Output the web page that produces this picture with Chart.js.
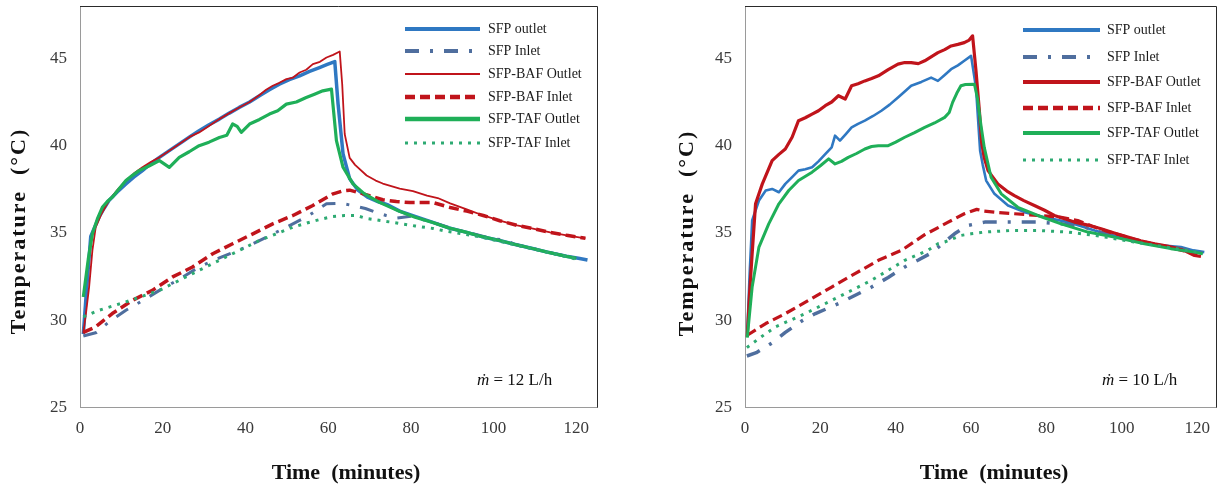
<!DOCTYPE html>
<html>
<head>
<meta charset="utf-8">
<script src="https://cdn.jsdelivr.net/npm/chart.js@4.4.1/dist/chart.umd.min.js"></script>
<style>
  html, body { margin: 0; padding: 0; background: #fff; }
  #wrap { position: relative; width: 1219px; height: 489px; overflow: hidden; }
  canvas { position: absolute; top: 0; }
  #c12 { left: 0; }
  #c10 { left: 610px; }
</style>
</head>
<body>
<div id="wrap">
  <canvas id="c12" width="609" height="489"></canvas>
  <canvas id="c10" width="609" height="489"></canvas>
</div>
<script>
// ---- data ----
const seriesNames = ['SFP outlet', 'SFP Inlet', 'SFP-BAF Outlet', 'SFP-BAF Inlet', 'SFP-TAF Outlet', 'SFP-TAF Inlet'];
const xTicks = [0, 20, 40, 60, 80, 100, 120];
const yTicks = [25, 30, 35, 40, 45];

// left panel, m = 12 L/h
const t12_sfpOut = [0.8, 1.6, 2.6, 3.5, 4.6, 5.8, 7, 9, 11.1, 13, 15.1, 17, 19.2, 21.5, 24, 26.5, 28.8, 31.2, 33.7, 36, 38.5, 41, 43.4, 45.8, 48.2, 50.6, 53.1, 55.5, 57.9, 59.8, 61.6, 62.4, 63.6, 65.2, 67.2, 69.5, 72, 74.5, 77.3, 81, 85.3, 89, 93.5, 97, 101.4, 105, 109.4, 113, 117.6, 120.5, 122.7];
const v12_sfpOut = [29.2, 31.8, 34.8, 35.3, 35.9, 36.4, 36.86, 37.35, 37.81, 38.2, 38.57, 38.95, 39.33, 39.7, 40.1, 40.5, 40.86, 41.2, 41.52, 41.85, 42.19, 42.5, 42.86, 43.2, 43.52, 43.78, 44.0, 44.25, 44.47, 44.65, 44.82, 42.38, 39.53, 38.1, 37.45, 37.05, 36.8, 36.6, 36.25, 35.95, 35.6, 35.3, 35.03, 34.8, 34.57, 34.35, 34.11, 33.9, 33.66, 33.55, 33.45];

const t12_sfpIn = [0.8, 4, 7, 11.1, 15, 19.2, 24, 28.8, 34, 40.2, 45, 49.9, 55, 59.6, 63, 66, 69, 71.7, 74, 76.6, 80, 85, 90, 95, 100, 103, 105, 110, 115, 120, 122.5];
const v12_sfpIn = [29.1, 29.3, 29.9, 30.57, 31.1, 31.71, 32.35, 33.05, 33.6, 34.19, 34.75, 35.33, 35.95, 36.67, 36.7, 36.57, 36.4, 36.17, 36.0, 35.85, 35.95, 35.62, 35.25, 34.95, 34.65, 34.6, 34.35, 34.08, 33.8, 33.55, 33.45];

const t12_bafOut = [0.8, 1.5, 2.2, 3, 3.8, 5.2, 7, 9, 11.1, 13, 15.1, 17, 19.2, 21.5, 24, 26.5, 28.8, 31, 33.7, 36, 38.5, 41, 43.4, 45, 46.6, 48.2, 49.9, 51.5, 53.1, 54.7, 56.3, 58, 59.6, 61.2, 62.8, 63.4, 64, 65.2, 66.5, 69.3, 71.5, 73.2, 77.3, 80.5, 83.9, 86.5, 89.5, 93.5, 97.5, 101.5, 105.7, 109.5, 113.7, 118, 122.2];
const v12_bafOut = [29.25, 30.5, 31.9, 34.0, 35.33, 36.1, 36.86, 37.45, 38.0, 38.4, 38.76, 39.05, 39.33, 39.7, 40.1, 40.5, 40.76, 41.1, 41.52, 41.85, 42.19, 42.5, 42.9, 43.2, 43.43, 43.6, 43.81, 43.9, 44.19, 44.35, 44.67, 44.8, 45.05, 45.2, 45.39, 43.5, 40.67, 39.3, 38.9, 38.29, 38.0, 37.83, 37.54, 37.4, 37.14, 37.0, 36.69, 36.35, 36.0, 35.7, 35.43, 35.25, 35.03, 34.85, 34.69];

const t12_bafIn = [0.8, 3.8, 7.8, 12.7, 17.5, 22.4, 27.2, 32.1, 36.9, 41.8, 46.6, 51.5, 56.3, 61.2, 63.5, 65.2, 67.6, 70.5, 73.2, 76.5, 79.8, 85.3, 89.5, 93.5, 97.5, 101.5, 105.7, 109.5, 113.7, 118, 122.2];
const v12_bafIn = [29.3, 29.62, 30.38, 31.14, 31.71, 32.48, 33.05, 33.81, 34.38, 34.95, 35.52, 36.0, 36.57, 37.24, 37.4, 37.45, 37.3, 37.1, 36.9, 36.8, 36.74, 36.74, 36.46, 36.25, 36.0, 35.7, 35.43, 35.25, 35.03, 34.85, 34.69];

const t12_tafOut = [0.8, 2, 3, 4.2, 5.4, 6.6, 7.8, 9.5, 11.1, 12.7, 14.3, 16.8, 19.2, 21.6, 24, 26.4, 28.8, 31.2, 33.7, 35.5, 36.9, 38, 39, 41, 43.4, 45.8, 47.8, 49.9, 52.3, 54.7, 56.7, 58.7, 60.8, 62, 63.6, 66, 68.7, 72.4, 77.1, 81, 85.3, 89, 93.5, 97, 101.4, 105, 109.4, 113, 117.6, 120];
const v12_tafOut = [31.33, 33.5, 34.95, 35.8, 36.47, 36.8, 37.05, 37.55, 38.0, 38.3, 38.57, 38.85, 39.14, 38.76, 39.33, 39.65, 40.0, 40.2, 40.47, 40.6, 41.24, 41.1, 40.76, 41.24, 41.5, 41.81, 42.0, 42.38, 42.5, 42.76, 42.95, 43.14, 43.24, 40.29, 38.76, 37.81, 37.25, 36.75, 36.25, 35.9, 35.6, 35.3, 35.03, 34.8, 34.57, 34.35, 34.11, 33.9, 33.66, 33.55];

const t12_tafIn = [0.8, 4.6, 11.1, 19.2, 27.2, 35.3, 43.4, 51.5, 55.3, 58.5, 61.1, 64, 66.8, 69.3, 73, 77.3, 81, 85.3, 88.5, 91.9, 95, 100, 105, 110, 115, 120];
const v12_tafIn = [30.19, 30.57, 31.05, 31.71, 32.67, 33.62, 34.57, 35.33, 35.6, 35.8, 35.94, 36.0, 36.0, 35.83, 35.7, 35.54, 35.4, 35.26, 35.1, 34.97, 34.85, 34.6, 34.33, 34.05, 33.78, 33.5];

// right panel, m = 10 L/h
const t10_sfpOut = [0.6, 1.2, 1.9, 3.7, 5.5, 7.2, 9, 10.7, 12.5, 14.2, 16, 17.8, 19.5, 21.3, 23, 23.9, 25.2, 26.7, 28.3, 30, 31.8, 34, 36.2, 38.4, 40.6, 42.4, 44.1, 46.8, 49.4, 51.2, 53, 54.7, 56.5, 58.2, 60, 61.3, 62.4, 63.1, 64, 66.2, 69.8, 74.2, 79.5, 85.7, 92.8, 97, 101.6, 106, 110.4, 115.7, 119, 121.9];
const v10_sfpOut = [29.2, 32.5, 35.71, 36.86, 37.43, 37.52, 37.33, 37.81, 38.2, 38.57, 38.65, 38.76, 39.1, 39.52, 39.9, 40.57, 40.29, 40.65, 41.05, 41.25, 41.43, 41.7, 42.0, 42.35, 42.76, 43.1, 43.43, 43.65, 43.9, 43.71, 44.05, 44.38, 44.6, 44.86, 45.14, 43.33, 39.71, 38.9, 38.0, 37.24, 36.57, 36.19, 35.9, 35.62, 35.14, 34.9, 34.67, 34.45, 34.29, 34.19, 34.0, 33.9];

const t10_sfpIn = [0.5, 3, 7.2, 10.7, 15, 18.7, 24.8, 29, 33.6, 38, 42.4, 46, 49.4, 52, 55.6, 59.1, 63.6, 70.7, 77.7, 83.9, 90.1, 95, 100, 105, 110, 115, 120, 121.5];
const v10_sfpIn = [27.95, 28.14, 28.7, 29.3, 29.95, 30.38, 30.95, 31.4, 31.9, 32.45, 33.05, 33.45, 33.85, 34.3, 34.95, 35.43, 35.62, 35.62, 35.62, 35.52, 35.33, 35.0, 34.72, 34.5, 34.3, 34.12, 33.9, 33.85];

const t10_bafOut = [0.6, 1.2, 1.9, 2.8, 4.6, 7.2, 9, 10.7, 12.5, 14.2, 16, 17.8, 19.5, 21.3, 23, 24.8, 26.6, 28.3, 30, 31.8, 33.6, 35.4, 38, 40.6, 42.4, 44.1, 46, 47.7, 49.5, 51.2, 53, 54.7, 56.5, 58.2, 59.5, 60.4, 61.3, 62.2, 62.8, 63.5, 64.5, 67.1, 69.5, 71.5, 74, 76.8, 79.5, 82.1, 85, 87.4, 91, 94.5, 98, 101.6, 105, 108.7, 112, 114.9, 117, 119.3, 121];
const v10_bafOut = [29.05, 31.5, 33.81, 36.67, 37.81, 39.14, 39.5, 39.81, 40.48, 41.43, 41.6, 41.81, 42.0, 42.29, 42.5, 42.86, 42.67, 43.43, 43.55, 43.71, 43.85, 44.0, 44.35, 44.67, 44.76, 44.76, 44.7, 44.86, 45.1, 45.33, 45.5, 45.71, 45.8, 45.9, 46.05, 46.29, 44.3, 42.0, 40.2, 39.3, 38.57, 37.81, 37.4, 37.14, 36.85, 36.57, 36.3, 36.0, 35.8, 35.62, 35.45, 35.24, 35.0, 34.76, 34.55, 34.38, 34.25, 34.1, 33.95, 33.71, 33.65];

const t10_bafIn = [0.6, 5.5, 10.7, 16.9, 23, 29.2, 35.4, 41.5, 47.7, 53.8, 58.2, 61.5, 63.5, 66.2, 71.5, 77.7, 83.9, 88.3, 92, 96, 100, 104, 108, 112, 116, 120];
const v10_bafIn = [29.14, 29.81, 30.38, 31.14, 31.9, 32.67, 33.43, 34.0, 34.9, 35.6, 36.1, 36.35, 36.25, 36.19, 36.1, 36.0, 35.9, 35.71, 35.4, 35.1, 34.85, 34.6, 34.38, 34.2, 34.0, 33.75];

const t10_tafOut = [0.6, 1.9, 3.7, 6.3, 9, 11.6, 14.2, 17.8, 20, 22.2, 23.9, 25.6, 27.4, 29.6, 31.8, 33.6, 35.4, 38, 40, 42.4, 45, 47.7, 50.3, 53, 54.2, 55.1, 56.2, 57.3, 58.5, 60.9, 61.7, 62.6, 63.5, 65.3, 68, 72.4, 77.7, 83.9, 91, 98, 106, 113, 119.3, 121.5];
const v10_tafOut = [29.0, 31.9, 34.19, 35.52, 36.67, 37.43, 38.0, 38.48, 38.85, 39.24, 38.95, 39.1, 39.33, 39.55, 39.81, 39.95, 40.0, 40.0, 40.2, 40.48, 40.75, 41.05, 41.3, 41.62, 41.9, 42.48, 43.0, 43.43, 43.5, 43.52, 42.7, 41.2, 39.9, 38.19, 37.24, 36.47, 36.0, 35.52, 35.05, 34.76, 34.38, 34.1, 33.9, 33.81];

const t10_tafIn = [0.5, 4, 8.1, 16, 24.8, 33.6, 42.4, 48.5, 51.2, 53, 57.4, 60, 63.6, 70.7, 77.7, 85.7, 92.8, 96, 100, 105, 110, 115, 120];
const v10_tafIn = [28.43, 29.0, 29.62, 30.38, 31.33, 32.29, 33.43, 34.0, 34.38, 34.48, 34.86, 34.95, 35.05, 35.14, 35.14, 35.05, 34.86, 34.75, 34.6, 34.42, 34.25, 34.08, 33.9];

// ---- styling ----
const FONT = '"Liberation Serif", "Times New Roman", serif';
const seriesColors = ['#2f78c2', '#4f6e9e', '#c0141b', '#c0141b', '#1faf58', '#2daa72'];
const seriesDash = [[], [14, 11, 3, 11], [], [10, 5], [], [3, 6]];

function pts(t, v) {
    return t.map((x, i) => ({ x: x, y: v[i] }));
}

function buildDatasets(series, widths) {
    return series.map((s, i) => ({
        label: seriesNames[i],
        data: pts(s[0], s[1]),
        borderColor: seriesColors[i],
        borderWidth: widths[i],
        borderDash: seriesDash[i],
        borderCapStyle: 'butt',
        borderJoinStyle: 'round',
        pointRadius: 0,
        tension: 0,
        fill: false,
        order: series.length - i
    }));
}

// frame, in-plot legend, axis titles and flow-rate note
const decorPlugin = {
    id: 'decor',
    afterDraw(chart, args, opts) {
        const { ctx, chartArea: a } = chart;
        ctx.save();

        ctx.strokeStyle = '#2a2a2a';
        ctx.lineWidth = 1;
        ctx.beginPath();
        ctx.moveTo(a.left, a.top + 0.5);
        ctx.lineTo(a.right + 0.5, a.top + 0.5);
        ctx.lineTo(a.right + 0.5, a.bottom);
        ctx.stroke();

        const lg = opts.legend;
        chart.data.datasets.forEach((ds, i) => {
            const y = lg.rows[i];
            ctx.beginPath();
            ctx.setLineDash(ds.borderDash);
            ctx.strokeStyle = ds.borderColor;
            ctx.lineWidth = lg.widths[i];
            ctx.lineCap = 'butt';
            ctx.moveTo(lg.x1, y);
            ctx.lineTo(lg.x2, y);
            ctx.stroke();
            ctx.setLineDash([]);
            ctx.fillStyle = '#1a1a1a';
            ctx.font = '14px ' + FONT;
            ctx.textAlign = 'left';
            ctx.textBaseline = 'middle';
            ctx.fillText(ds.label, lg.textX, y);
        });

        ctx.fillStyle = '#111';
        ctx.font = 'bold 22px ' + FONT;
        ctx.textAlign = 'center';
        ctx.textBaseline = 'middle';
        ctx.fillText('Time  (minutes)', opts.xTitle[0], opts.xTitle[1]);

        ctx.save();
        ctx.translate(opts.yTitle[0], opts.yTitle[1]);
        ctx.rotate(-Math.PI / 2);
        ctx.letterSpacing = '2px';
        ctx.fillText('Temperature  (\u00B0C)', 0, 0);
        ctx.restore();

        ctx.textAlign = 'left';
        ctx.font = 'italic 17px ' + FONT;
        const m = '\u1E41';
        ctx.fillText(m, opts.note[0], opts.note[1]);
        const w = ctx.measureText(m).width;
        ctx.font = '17px ' + FONT;
        ctx.fillText(' = ' + opts.noteText, opts.note[0] + w, opts.note[1]);

        ctx.restore();
    }
};

function makeChart(id, series, widths, layout) {
    const canvas = document.getElementById(id);
    return new Chart(canvas.getContext('2d'), {
        type: 'line',
        data: { datasets: buildDatasets(series, widths) },
        options: {
            responsive: false,
            animation: false,
            layout: { padding: { left: 0, right: layout.padRight, top: 6, bottom: 0 } },
            scales: {
                x: {
                    type: 'linear',
                    min: 0,
                    max: 125,
                    afterBuildTicks: s => { s.ticks = xTicks.map(v => ({ value: v })); },
                    afterFit: s => { s.height = 81.5; s.paddingLeft = 0; s.paddingRight = 0; },
                    grid: { display: false, drawTicks: false },
                    border: { color: '#9a9a9a', width: 1 },
                    ticks: { padding: 11, color: '#3a3a3a', font: { family: FONT, size: 17 } }
                },
                y: {
                    type: 'linear',
                    min: 25,
                    max: 48,
                    afterBuildTicks: s => { s.ticks = yTicks.map(v => ({ value: v })); },
                    afterFit: s => { s.width = layout.yWidth; s.paddingTop = 0; s.paddingBottom = 0; },
                    grid: { display: false, drawTicks: false },
                    border: { color: '#9a9a9a', width: 1 },
                    ticks: { padding: 13, color: '#3a3a3a', font: { family: FONT, size: 17 } }
                }
            },
            plugins: {
                legend: { display: false },
                tooltip: { enabled: false },
                decor: layout.decor
            }
        },
        plugins: [decorPlugin]
    });
}

makeChart('c12', [
    [t12_sfpOut, v12_sfpOut], [t12_sfpIn, v12_sfpIn], [t12_bafOut, v12_bafOut],
    [t12_bafIn, v12_bafIn], [t12_tafOut, v12_tafOut], [t12_tafIn, v12_tafIn]
], [3.5, 3, 1.8, 3.5, 3.2, 3], {
    padRight: 12,
    yWidth: 80,
    decor: {
        legend: { x1: 405, x2: 480, textX: 488, rows: [29, 51, 74, 97, 119, 143], widths: [4, 4, 2, 4.5, 4.5, 3] },
        xTitle: [346, 473],
        yTitle: [19, 231],
        note: [477, 381],
        noteText: '12 L/h'
    }
});

makeChart('c10', [
    [t10_sfpOut, v10_sfpOut], [t10_sfpIn, v10_sfpIn], [t10_bafOut, v10_bafOut],
    [t10_bafIn, v10_bafIn], [t10_tafOut, v10_tafOut], [t10_tafIn, v10_tafIn]
], [2.6, 3.5, 3.2, 3.2, 3, 3], {
    padRight: 3,
    yWidth: 135,
    decor: {
        legend: { x1: 413, x2: 490, textX: 497, rows: [30, 57, 82, 108, 133, 160], widths: [4, 4, 4, 4.5, 4, 3] },
        xTitle: [384, 473],
        yTitle: [77, 233],
        note: [492, 381],
        noteText: '10 L/h'
    }
});
</script>
</body>
</html>
